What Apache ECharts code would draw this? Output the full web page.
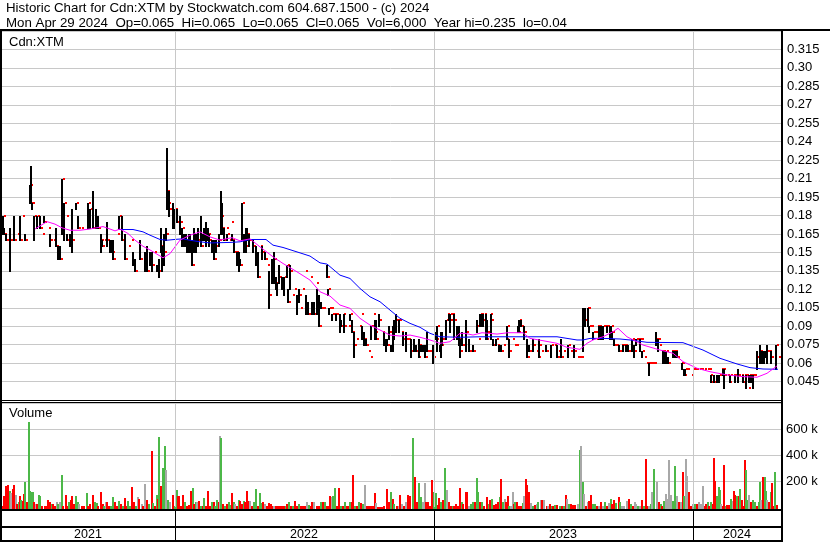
<!DOCTYPE html>
<html><head><meta charset="utf-8">
<script src="https://cdn.jsdelivr.net/npm/echarts/dist/echarts.min.js"></script>
<style>html,body{margin:0;padding:0;background:#fff}#c{width:830px;height:543px}</style>
</head><body><div id="c"></div><script>
// ---- DATA (x = trading-day slot position) ----
const headerLine1 = 'Historic Chart for Cdn:XTM by Stockwatch.com 604.687.1500 - (c) 2024';
const headerLine2 = 'Mon Apr 29 2024  Op=0.065  Hi=0.065  Lo=0.065  Cl=0.065  Vol=6,000  Year hi=0.235  lo=0.04';
const symbolLabel = 'Cdn:XTM';
const volumeLabel = 'Volume';
const yearLabels = ['2021', '2022', '2023', '2024'];
const yearMid = [88, 304, 563, 737];
const yearBounds = [175, 434, 693];

const priceX = [
3,4,6,10,14,17,20,22,25,30,
31,32,34,37,40,42,44,48,50,53,
56,58,60,62,64,66,67,69,70,72,
76,78,81,86,88,90,93,96,98,101,
102,104,107,110,112,113,117,119,122,125,
128,131,133,135,138,140,145,147,150,152,
154,157,159,161,162,164,166,167,168,169,
171,173,175,177,180,182,184,186,187,189,
190,192,194,196,198,201,203,204,206,208,
209,211,212,214,216,217,219,221,222,224,
226,227,229,231,232,234,236,237,239,240,
242,244,246,247,249,251,253,254,256,258,
260,262,265,267,269,271,272,274,276,277,
279,282,284,287,288,290,292,294,297,299,
300,302,305,306,308,310,312,314,316,317,
319,321,323,327,328,329,331,332,334,336,
338,340,341,343,344,348,350,352,354,356,
359,361,362,364,366,368,370,371,373,375,
376,378,379,382,384,386,387,389,391,393,
394,396,397,399,401,403,404,406,408,411,
412,414,416,418,419,421,423,425,427,429,
433,436,437,440,441,442,444,446,447,449,
450,451,452,454,456,457,459,460,462,464,
466,469,471,473,477,478,480,481,483,484,
486,487,490,491,493,496,497,499,501,503,
506,507,509,512,514,516,518,519,521,524,
527,528,529,531,533,536,538,539,541,544,
546,549,551,554,557,558,561,563,566,568,
570,572,574,577,579,581,583,585,587,588,
589,591,593,595,596,597,599,601,603,605,
607,610,611,612,614,616,619,621,623,625,
626,628,630,632,634,636,638,640,641,642,
644,646,647,649,651,652,654,656,658,659,
661,663,664,666,668,671,673,675,677,681,
682,684,685,687,691,693,694,696,699,701,
704,707,709,710,711,714,717,719,721,723,
724,727,729,730,733,735,737,738,741,743,
744,746,748,749,750,751,753,754,757,760,
761,762,764,766,767,769,771,774,776,778];
const priceHigh = [
.18,.17,.165,.17,.18,.165,.18,.18,.165,.205,
.22,.19,.18,.18,.18,.165,.18,.17,.165,.16,
.17,.155,.155,.21,.19,.18,.165,.16,.165,.185,
.19,.18,.17,.17,.19,.185,.2,.185,.18,.165,
.16,.16,.175,.16,.16,.16,.165,.18,.18,.165,
.155,.16,.15,.145,.15,.16,.15,.155,.15,.15,
.15,.14,.145,.17,.155,.165,.17,.235,.2,.2,
.185,.19,.185,.185,.18,.17,.165,.165,.16,.165,
.165,.16,.17,.165,.17,.18,.165,.17,.175,.17,
.165,.155,.16,.16,.16,.16,.165,.2,.19,.17,
.17,.165,.16,.175,.165,.16,.15,.15,.15,.145,
.19,.165,.17,.17,.165,.16,.16,.15,.155,.15,
.155,.155,.15,.14,.135,.125,.145,.15,.13,.125,
.14,.13,.13,.14,.12,.14,.115,.12,.115,.12,
.105,.12,.135,.115,.11,.13,.11,.11,.125,.12,
.115,.11,.105,.14,.12,.105,.105,.1,.1,.1,
.095,.1,.095,.1,.1,.09,.1,.095,.085,.08,
.09,.1,.09,.085,.08,.07,.065,.09,.1,.095,
.095,.095,.1,.085,.085,.08,.08,.09,.075,.09,
.095,.1,.095,.095,.085,.085,.08,.085,.08,.08,
.075,.08,.075,.065,.08,.075,.075,.075,.085,.07,
.075,.085,.09,.075,.085,.085,.085,.095,.1,.1,
.1,.095,.1,.1,.085,.09,.09,.08,.085,.075,
.095,.08,.07,.075,.095,.08,.1,.1,.1,.1,
.1,.095,.1,.1,.08,.08,.075,.075,.075,.075,
.08,.09,.08,.08,.075,.075,.09,.095,.095,.09,
.08,.07,.075,.07,.08,.07,.065,.08,.07,.07,
.075,.065,.075,.075,.075,.07,.08,.07,.065,.075,
.07,.065,.075,.065,.065,.065,.105,.105,.105,.105,
.09,.09,.085,.085,.08,.09,.09,.09,.09,.09,
.09,.09,.09,.085,.08,.075,.075,.075,.075,.075,
.075,.075,.075,.08,.075,.08,.08,.08,.08,.07,
.065,.06,.06,.06,.06,.06,.06,.085,.08,.075,
.07,.07,.07,.07,.065,.07,.07,.07,.07,.06,
.06,.055,.055,.055,.05,.055,.055,.055,.055,.055,
.055,.055,.055,.05,.05,.05,.05,.05,.055,.055,
.055,.05,.045,.05,.05,.05,.05,.055,.05,.05,
.05,.05,.04,.05,.05,.05,.05,.05,.07,.075,
.07,.07,.07,.07,.075,.07,.07,.065,.075,.065];
const priceLow = [
.165,.165,.16,.135,.16,.165,.16,.18,.16,.19,
.19,.185,.16,.17,.17,.165,.175,.17,.155,.16,
.155,.145,.145,.165,.16,.18,.16,.16,.155,.15,
.185,.17,.17,.17,.17,.17,.17,.17,.17,.15,
.155,.16,.155,.15,.15,.145,.165,.17,.16,.145,
.155,.16,.14,.135,.15,.145,.135,.135,.14,.135,
.15,.135,.13,.15,.135,.14,.16,.185,.185,.18,
.185,.17,.17,.175,.165,.155,.155,.155,.15,.15,
.15,.14,.15,.15,.155,.155,.16,.16,.155,.16,
.155,.155,.15,.145,.15,.16,.155,.165,.165,.16,
.17,.16,.16,.175,.16,.15,.15,.14,.135,.14,
.16,.15,.15,.16,.155,.16,.15,.15,.14,.13,
.155,.145,.145,.14,.105,.125,.125,.125,.12,.115,
.125,.12,.115,.13,.11,.12,.115,.12,.1,.11,
.105,.12,.135,.1,.1,.13,.1,.1,.125,.1,
.09,.105,.105,.13,.115,.1,.105,.095,.1,.095,
.095,.085,.09,.1,.085,.09,.095,.085,.065,.08,
.09,.1,.08,.075,.075,.07,.065,.08,.1,.08,
.08,.095,.09,.085,.075,.07,.075,.08,.07,.07,
.08,.085,.095,.085,.085,.075,.08,.07,.08,.065,
.075,.07,.07,.065,.065,.07,.07,.065,.07,.07,
.06,.08,.07,.07,.065,.075,.085,.08,.1,.095,
.085,.095,.1,.08,.085,.08,.075,.065,.075,.075,
.07,.07,.07,.07,.085,.08,.09,.09,.09,.1,
.08,.08,.1,.08,.075,.075,.075,.07,.07,.075,
.08,.08,.065,.08,.075,.075,.085,.085,.09,.08,
.065,.07,.07,.07,.07,.07,.065,.065,.07,.07,
.07,.065,.065,.075,.065,.07,.065,.07,.065,.065,
.07,.065,.065,.065,.065,.065,.07,.09,.105,.09,
.085,.09,.08,.085,.08,.09,.08,.08,.08,.09,
.085,.08,.08,.08,.075,.075,.07,.075,.07,.075,
.07,.07,.075,.07,.065,.075,.08,.07,.08,.065,
.065,.06,.06,.05,.06,.06,.06,.075,.07,.075,
.07,.06,.06,.06,.06,.07,.065,.065,.065,.06,
.055,.05,.05,.055,.05,.055,.055,.055,.055,.055,
.055,.055,.055,.05,.045,.045,.045,.045,.055,.05,
.04,.05,.045,.045,.05,.045,.05,.045,.05,.045,
.05,.04,.04,.045,.045,.045,.04,.05,.055,.06,
.06,.06,.06,.065,.06,.07,.06,.065,.055,.065];
const priceClose = [
.18,.165,.16,.16,.16,.165,.16,.18,.16,.205,
.19,.19,.18,.18,.17,.165,.175,.17,.16,.16,
.155,.15,.145,.21,.19,.18,.16,.16,.155,.16,
.19,.17,.17,.17,.19,.185,.17,.17,.17,.16,
.155,.16,.16,.155,.15,.145,.165,.18,.16,.145,
.155,.16,.14,.135,.15,.145,.135,.135,.145,.14,
.15,.135,.135,.155,.145,.15,.165,.2,.19,.185,
.185,.175,.185,.175,.175,.17,.16,.16,.155,.155,
.15,.14,.155,.16,.16,.155,.16,.165,.16,.165,
.16,.155,.155,.145,.155,.16,.16,.18,.17,.16,
.17,.165,.16,.175,.16,.15,.15,.145,.14,.14,
.19,.15,.155,.165,.16,.16,.155,.15,.14,.13,
.155,.15,.145,.14,.115,.125,.125,.145,.125,.125,
.13,.125,.13,.14,.11,.135,.115,.12,.115,.115,
.105,.12,.135,.105,.1,.13,.105,.1,.125,.11,
.09,.105,.105,.13,.12,.105,.105,.1,.1,.1,
.095,.09,.09,.1,.09,.09,.1,.085,.075,.08,
.09,.1,.08,.08,.075,.07,.065,.09,.1,.085,
.08,.095,.095,.085,.075,.075,.075,.085,.07,.085,
.095,.095,.095,.095,.085,.08,.08,.08,.08,.07,
.075,.07,.07,.065,.075,.07,.07,.065,.07,.07,
.065,.08,.09,.075,.075,.08,.085,.095,.1,.095,
.1,.095,.1,.095,.085,.08,.08,.07,.075,.075,
.085,.07,.07,.07,.09,.08,.1,.1,.095,.1,
.08,.085,.1,.095,.075,.08,.075,.07,.07,.075,
.08,.09,.07,.08,.075,.075,.085,.095,.09,.085,
.065,.07,.07,.07,.075,.07,.065,.075,.07,.07,
.07,.065,.075,.075,.065,.07,.065,.07,.065,.075,
.07,.065,.07,.065,.065,.065,.09,.095,.105,.105,
.09,.09,.085,.085,.08,.09,.09,.085,.09,.09,
.09,.085,.09,.085,.075,.075,.07,.075,.075,.075,
.07,.07,.075,.08,.07,.08,.08,.08,.08,.07,
.065,.06,.06,.06,.06,.06,.06,.08,.08,.075,
.07,.07,.065,.07,.06,.07,.07,.07,.065,.06,
.06,.05,.055,.055,.05,.055,.055,.055,.055,.055,
.055,.055,.055,.05,.045,.045,.045,.05,.055,.055,
.05,.05,.045,.05,.05,.05,.05,.05,.05,.045,
.05,.05,.04,.05,.045,.05,.05,.05,.065,.07,
.065,.06,.065,.07,.07,.07,.065,.065,.075,.065];

// moving averages
const maLongX = [118,133,143,150,160,167,177,183,190,200,210,230,240,250,266,273,283,297,310,320,327,340,350,360,370,380,390,400,410,420,430,440,460,480,510,537,557,567,577,583,590,603,620,630,647,683,703,720,737,750,763,778];
const maLongY = [0.1686,0.1686,0.1667,0.164,0.1605,0.1599,0.1607,0.161,0.1599,0.1586,0.1577,0.1581,0.1586,0.1605,0.1605,0.1559,0.154,0.1504,0.147,0.1415,0.1405,0.1315,0.1288,0.1207,0.1139,0.1099,0.1031,0.0964,0.0923,0.0891,0.0842,0.0814,0.081,0.0814,0.0814,0.0814,0.0814,0.0801,0.0788,0.0788,0.0801,0.0801,0.0796,0.0788,0.0769,0.0766,0.0706,0.0639,0.0593,0.0563,0.0552,0.055];
const maShortX = [35,47,55,62,70,80,90,103,110,115,120,128,135,143,150,163,170,180,190,200,210,220,232,240,250,260,273,283,297,310,320,330,340,350,360,370,380,390,400,410,420,430,440,450,460,465,473,482,497,508,523,530,543,557,567,580,587,593,603,613,618,627,643,660,673,683,697,710,727,743,757,767,777];
const maShortY = [0.169,0.175,0.173,0.170,0.168,0.168,0.169,0.171,0.169,0.1675,0.169,0.1654,0.160,0.155,0.152,0.1456,0.149,0.160,0.164,0.1667,0.1626,0.160,0.162,0.1594,0.161,0.1545,0.1464,0.141,0.1342,0.1275,0.118,0.1145,0.1072,0.1045,0.0964,0.0909,0.0869,0.0828,0.082,0.0828,0.081,0.0788,0.0761,0.0774,0.0842,0.0842,0.0828,0.0847,0.0836,0.0847,0.0847,0.0801,0.0782,0.0761,0.0728,0.0712,0.0761,0.0788,0.0814,0.0855,0.0883,0.0814,0.0747,0.0706,0.068,0.0612,0.0558,0.053,0.0504,0.049,0.0485,0.0517,0.0577];

// volume in thousands of shares; dir: r = down, g = up, n = unchanged
const volX = [
3,4,6,8,10,11,13,14,16,17, 19,20,21,23,24,25,27,29,30,32,
33,34,36,37,39,40,42,45,47,48, 50,52,53,55,57,58,60,62,63,66,
68,69,71,72,74,76,78,79,82,84, 87,88,90,93,95,97,98,101,103,104,
106,107,109,111,113,115,117,119,121,123, 125,126,128,130,132,134,136,138,139,142,
143,145,147,149,152,153,155,157,158,159, 161,162,163,165,166,168,170,173,175,177,
178,179,181,183,184,185,187,189,191,193, 194,196,197,199,201,203,204,206,208,210,
212,214,215,217,219,220,221,223,225,227, 229,231,232,234,235,237,239,240,242,244,
245,247,248,250,252,254,256,258,260,262, 263,265,267,269,271,272,274,276,278,280,
282,284,286,287,289,291,293,295,297,299, 301,303,305,307,309,311,312,314,317,319,
321,323,325,327,329,330,332,333,335,337, 339,341,343,345,347,348,350,352,353,355,
357,359,361,363,365,367,369,371,373,375, 376,378,380,382,384,387,389,391,393,394,
397,399,400,402,404,406,408,410,
413,415,417,419,421,423,425,426,428,430, 432,434,436,438,439,441,443,445,447,449,
451,453,454,456,458,460,462,463,466,467, 469,471,473,475,477,478,480,482,484,487,
489,490,492,494,496,498,500,501,503,505, 506,508,509,511,513,514,515,517,519,521,
523,524,526,527,529,531,533,535,537,538, 541,542,544,547,548,550,552,553,555,557,
560,562,564,566,567,569,571,573,575,578, 580,581,583,584,586,588,589,591,593,595,
597,599,601,603,605,607,609,611,612,614, 616,619,620,622,624,627,629,631,633,635,
636,638,640,642,644,646,647,649,651,652, 654,657,659,661,662,664,666,667,669,671,
673,675,677,679,681,683,684,686,687,689, 691,693,695,697,699,701,703,705,706,708,
709,711,713,714,715,717,719,720,721,723, 724,726,727,729,731,733,734,735,737,739,
740,742,743,745,746,747,749,751,753,755, 757,759,760,761,763,765,766,767,769,771,
772,773,775,777];
const volK = [
10,87,159,170,125,108,138,170,92,23, 41,87,56,49,100,195,36,656,125,118,
113,36,23,23,92,87,10,10,5,56, 41,23,23,10,36,23,41,249,10,95,
10,36,56,87,23,87,36,23,10,5, 108,10,23,95,36,31,10,113,23,10,
36,41,10,10,79,36,10,49,23,10, 72,10,49,10,156,36,10,79,62,23,
10,177,56,23,433,28,10,92,62,541, 164,87,297,466,287,56,36,92,10,133,
82,87,10,95,10,41,10,15,125,143, 23,41,36,49,10,10,67,10,125,10,
36,41,10,56,36,549,528,23,10,23, 36,15,105,36,23,10,56,49,23,49,
41,120,49,49,10,36,138,10,108,31, 41,23,10,31,23,10,10,10,10,10,
10,5,10,23,36,10,10,49,10,23, 10,10,10,36,15,10,41,41,10,10,
41,41,36,10,10,87,79,82,143,10, 149,10,10,36,10,10,41,41,249,10,
10,41,31,23,172,10,10,10,10,108, 31,3,3,3,10,138,36,113,62,23,
10,10,92,23,10,41,92,87,
528,228,36,185,74,36,185,41,36,10, 210,113,105,15,72,36,56,297,131,41,
10,10,10,23,10,149,36,23,118,118, 10,23,36,36,223,113,36,36,10,74,
23,56,62,15,23,36,79,215,36,62, 36,82,10,10,118,23,36,41,10,10,
31,87,215,170,113,31,10,15,23,36, 56,56,54,10,10,23,10,10,15,15,
10,10,10,95,62,23,23,15,15,23, 441,472,195,100,10,36,49,92,23,23,
10,10,36,10,36,10,31,62,23,56, 31,79,36,10,10,49,62,23,10,36,
23,10,10,56,10,369,10,10,23,113, 292,195,36,23,10,49,100,62,364,92,
49,318,82,36,36,272,87,369,241,113, 10,23,23,23,36,23,164,10,23,41,
10,36,23,374,203,87,151,133,23,10, 326,10,15,15,62,49,125,92,82,87,
138,56,10,364,287,56,92,41,56,36, 10,41,195,56,233,233,125,56,36,113,
185,10,272,15];
const volDir = [
'r','r','r','r','g','n','r','r','n','r', 'g','r','g','r','r','g','r','g','g','g',
'g','r','n','r','g','g','r','r','r','r', 'r','g','r','r','n','g','n','g','r','r',
'r','g','r','r','r','g','g','n','r','r', 'g','r','r','r','g','g','r','r','r','g',
'n','r','r','g','g','r','r','g','r','g', 'r','r','g','g','r','r','g','n','r','n',
'r','n','r','g','r','g','r','g','r','g', 'r','r','g','g','n','g','n','r','g','g',
'r','r','r','r','r','g','r','r','r','g', 'r','g','n','r','g','r','g','r','r','r',
'g','r','g','g','r','n','g','r','g','r', 'g','g','r','g','n','r','g','r','r','g',
'r','r','r','n','r','g','g','r','g','g', 'r','n','r','r','r','r','n','r','r','r',
'r','r','g','r','g','r','g','r','r','g', 'r','r','r','n','g','r','r','n','r','r',
'g','r','g','r','r','r','n','g','g','r', 'r','g','r','g','r','r','g','r','r','g',
'r','g','r','g','n','r','r','r','r','r', 'n','r','r','r','r','r','r','g','r','g',
'r','n','r','n','r','n','r','r',
'g','r','r','g','g','n','n','r','r','r', 'r','g','g','r','r','g','r','g','n','r',
'r','g','r','r','r','r','g','r','r','r', 'n','g','g','r','g','g','r','g','r','r',
'g','r','g','r','r','r','g','r','g','n', 'r','r','g','n','n','r','g','r','r','r',
'g','n','r','r','r','n','g','r','n','g', 'n','r','n','r','n','r','g','r','g','r',
'g','r','g','r','n','g','r','r','r','n', 'g','n','g','n','r','n','r','r','g','g',
'r','n','r','n','g','r','n','g','r','r', 'g','r','g','n','n','n','r','g','r','n',
'n','g','n','r','g','r','r','n','g','n', 'g','n','r','g','r','g','n','n','n','n',
'g','g','n','r','n','r','g','n','n','r', 'r','n','g','r','n','n','n','r','r','g',
'r','g','r','r','r','g','g','g','n','r', 'r','g','r','r','g','n','r','r','g','r',
'g','r','r','r','g','g','n','r','g','g', 'r','g','g','n','r','g','g','n','r','g',
'r','r','g','r'];

// ---- CHART ----
const FONT = '"Liberation Sans", Arial, sans-serif';
const dirColor = { r: '#ff0000', g: '#4cb848', n: '#a8a8a8' };
const chart = echarts.init(document.getElementById('c'), null, { renderer: 'canvas' });

function fmtPrice(v) {
  if (v < 0.04 || v > 0.32) return '';
  let t = v.toFixed(3);
  if (t.endsWith('0')) t = v.toFixed(2);
  return t;
}
function fmtVol(v) {
  if (v <= 0 || v >= 800) return '';
  return Math.round(v) + ' k';
}
const yearLine = (color) => ({
  silent: true, symbol: ['none', 'none'], label: { show: false },
  lineStyle: { color: color, width: 1, type: 'solid' },
  emphasis: { disabled: true },
  data: yearBounds.map(v => ({ xAxis: v }))
});
const frameRect = (x, y, w, h) => ({ type: 'rect', z: 100, silent: true, shape: { x: x, y: y, width: w, height: h }, style: { fill: '#000' } });
const txt = (x, y, s, size) => ({ type: 'text', z: 100, silent: true, x: x, y: y,
  style: { text: s, font: size + 'px ' + FONT, fill: '#000', verticalAlign: 'middle', align: 'left' } });

const option = {
  animation: false,
  backgroundColor: '#ffffff',
  grid: [
    { left: 0, top: 31, width: 781, height: 369 },
    { left: 0, top: 403, width: 781, height: 104 },
    { left: 0, top: 511, width: 781, height: 30 }
  ],
  xAxis: [
    { gridIndex: 0, type: 'value', min: 0, max: 781, show: false },
    { gridIndex: 1, type: 'value', min: 0, max: 781, show: false },
    { gridIndex: 2, type: 'value', min: 0, max: 781, position: 'bottom',
      axisLine: { show: false }, axisTick: { show: false }, splitLine: { show: false },
      axisLabel: { show: true, customValues: yearMid, inside: true, margin: 0, color: '#000', fontSize: 12.5, fontFamily: FONT,
        formatter: v => { const i = yearMid.indexOf(v); return i >= 0 ? yearLabels[i] : ''; } } }
  ],
  yAxis: [
    { gridIndex: 0, type: 'value', position: 'right', min: 0.03, max: 0.33, interval: 0.015,
      axisLine: { show: false }, axisTick: { show: false },
      splitLine: { show: true, lineStyle: { color: '#c8c8c8', width: 1 } },
      axisLabel: { margin: 6, color: '#000', fontSize: 13, fontFamily: FONT, formatter: fmtPrice } },
    { gridIndex: 1, type: 'value', position: 'right', min: 0, max: 800, interval: 200,
      axisLine: { show: false }, axisTick: { show: false },
      splitLine: { show: true, showMinLine: false, lineStyle: { color: '#c8c8c8', width: 1 } },
      axisLabel: { margin: 5, color: '#000', fontSize: 13, fontFamily: FONT, formatter: fmtVol } },
    { gridIndex: 2, type: 'value', min: 0, max: 1, show: false }
  ],
  series: [
    { type: 'line', xAxisIndex: 0, yAxisIndex: 0, data: [], z: 1, markLine: yearLine('#c8c8c8') },
    { type: 'custom', xAxisIndex: 0, yAxisIndex: 0, z: 2,
      data: priceX.map((x, i) => [x, priceHigh[i], priceLow[i], priceClose[i]]),
      encode: { x: 0, y: [1, 2, 3] },
      renderItem: (params, api) => {
        const x = api.value(0);
        const top = api.coord([x, api.value(1)]);
        const bot = api.coord([x, api.value(2)]);
        const cl = api.coord([x, api.value(3)]);
        const px = Math.round(top[0]);
        const ty = Math.round(top[1]), by = Math.round(bot[1]);
        const ch = [];
        if (by - ty >= 1) ch.push({ type: 'rect', shape: { x: px - 1, y: ty, width: 2, height: by - ty + 1 }, style: { fill: '#000' } });
        ch.push({ type: 'rect', shape: { x: px + 1, y: Math.round(cl[1]) - 1, width: 2, height: 2 }, style: { fill: '#ff0000' } });
        return { type: 'group', children: ch };
      } },
    { type: 'line', xAxisIndex: 0, yAxisIndex: 0, z: 3, showSymbol: false, silent: true,
      data: maLongX.map((x, i) => [x, maLongY[i]]), lineStyle: { color: '#0000ff', width: 1 } },
    { type: 'line', xAxisIndex: 0, yAxisIndex: 0, z: 3, showSymbol: false, silent: true,
      data: maShortX.map((x, i) => [x, maShortY[i]]), lineStyle: { color: '#ff00ff', width: 1 } },
    { type: 'line', xAxisIndex: 1, yAxisIndex: 1, data: [], z: 1, markLine: yearLine('#c8c8c8') },
    { type: 'custom', xAxisIndex: 1, yAxisIndex: 1, z: 2,
      data: volX.map((x, i) => ({ value: [x, volK[i]], itemStyle: { color: dirColor[volDir[i]] } })),
      encode: { x: 0, y: 1 },
      renderItem: (params, api) => {
        const x = api.value(0);
        const t = api.coord([x, api.value(1)]);
        const b = api.coord([x, 0]);
        const ty = Math.round(t[1]), by = Math.round(b[1]);
        return { type: 'rect', shape: { x: Math.round(t[0]) - 1, y: ty, width: 2, height: by - ty + 2 },
          style: { fill: api.visual('color') } };
      } },
    { type: 'line', xAxisIndex: 2, yAxisIndex: 2, data: [], z: 1, markLine: yearLine('#000000') }
  ],
  graphic: [
    frameRect(0, 29, 830, 2),
    frameRect(0, 29, 2, 513),
    frameRect(781, 29, 2, 513),
    frameRect(0, 400, 783, 1),
    frameRect(0, 402, 783, 1),
    frameRect(0, 509, 783, 2),
    frameRect(0, 526, 783, 2),
    frameRect(0, 540, 783, 2),
    txt(6, 8.8, headerLine1, 13.3),
    txt(6, 23.8, headerLine2, 13.3),
    txt(9, 42, symbolLabel, 13),
    txt(9, 413, volumeLabel, 13)
  ]
};
chart.setOption(option);
</script></body></html>
